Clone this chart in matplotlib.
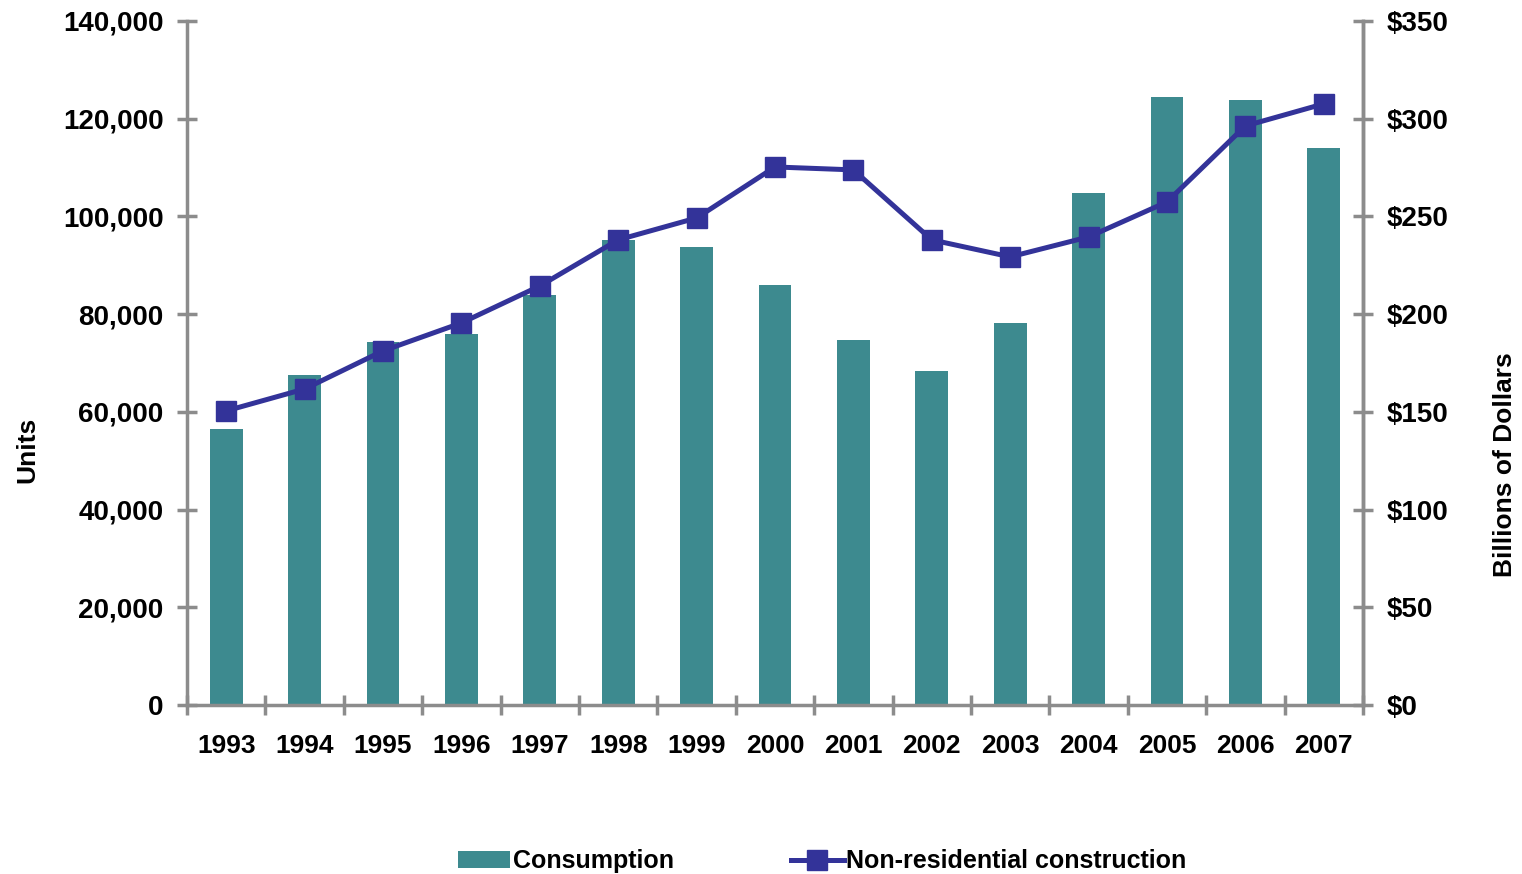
import matplotlib.pyplot as plt
from matplotlib.ticker import FuncFormatter
import numpy as np

plt.rcParams['font.family'] = ['Liberation Sans', 'DejaVu Sans']
plt.rcParams['font.weight'] = 'bold'

years = ['1993', '1994', '1995', '1996', '1997', '1998', '1999', '2000',
         '2001', '2002', '2003', '2004', '2005', '2006', '2007']
consumption = [56500, 67500, 74300, 75900, 83900, 95200, 93700, 86000,
               74700, 68400, 78200, 104800, 124400, 123800, 114000]
construction = [150.5, 161.7, 181.2, 195.5, 214.4, 238.0, 249.2, 275.3,
                273.8, 238.0, 229.3, 239.5, 257.4, 296.3, 307.6]

bar_color = '#3D8A8F'
line_color = '#333399'
spine_color = '#8C8C8C'

fig = plt.figure(figsize=(15.22, 8.74), dpi=100)
ax = fig.add_axes([0.1229, 0.1934, 0.7726, 0.7826])
ax2 = ax.twinx()

x = np.arange(len(years))
bars = ax.bar(x, consumption, width=0.42, color=bar_color, zorder=2,
              label='Consumption')
line, = ax2.plot(x, construction, color=line_color, lw=3.6, marker='s',
                 markersize=14, label='Non-residential construction', zorder=3)

ax.set_xlim(-0.5, len(years) - 0.5)
ax.set_ylim(0, 140000)
ax2.set_ylim(0, 350)
ax.set_yticks(np.arange(0, 140001, 20000))
ax2.set_yticks(np.arange(0, 351, 50))
ax.yaxis.set_major_formatter(FuncFormatter(lambda v, p: f'{int(v):,}'))
ax2.yaxis.set_major_formatter(FuncFormatter(lambda v, p: f'${int(v)}'))

ax.set_xticks(x)
ax.set_xticklabels(years)
ax.set_xticks(np.arange(-0.5, len(years)), minor=True)
ax.tick_params(axis='x', which='major', length=0, pad=21, labelsize=19)
ax.tick_params(axis='x', which='minor', length=14, width=2.5,
               direction='inout', color=spine_color)
ax.tick_params(axis='y', length=14, width=2.5, direction='inout',
               color=spine_color, labelsize=20, pad=10)
ax2.tick_params(axis='y', length=14, width=2.5, direction='inout',
                color=spine_color, labelsize=20, pad=10)

for a in (ax, ax2):
    a.spines['top'].set_visible(False)
    for s in ('left', 'right', 'bottom'):
        a.spines[s].set_color(spine_color)
        a.spines[s].set_linewidth(2.5)
ax2.spines['left'].set_visible(False)
ax2.spines['bottom'].set_visible(False)

ax.set_ylabel('Units', fontsize=19, fontweight='bold')
ax.yaxis.set_label_coords(-0.126, 0.373)
ax2.set_ylabel('Billions of Dollars', fontsize=19, fontweight='bold')
ax2.yaxis.set_label_coords(1.111, 0.351)

fig.legend(handles=[bars, line], loc='lower center', ncol=2,
           bbox_to_anchor=(0.54, -0.025), frameon=False, fontsize=18,
           handlelength=2.1, columnspacing=4.7, handletextpad=0.1)

fig.savefig('out.png', dpi=100)
